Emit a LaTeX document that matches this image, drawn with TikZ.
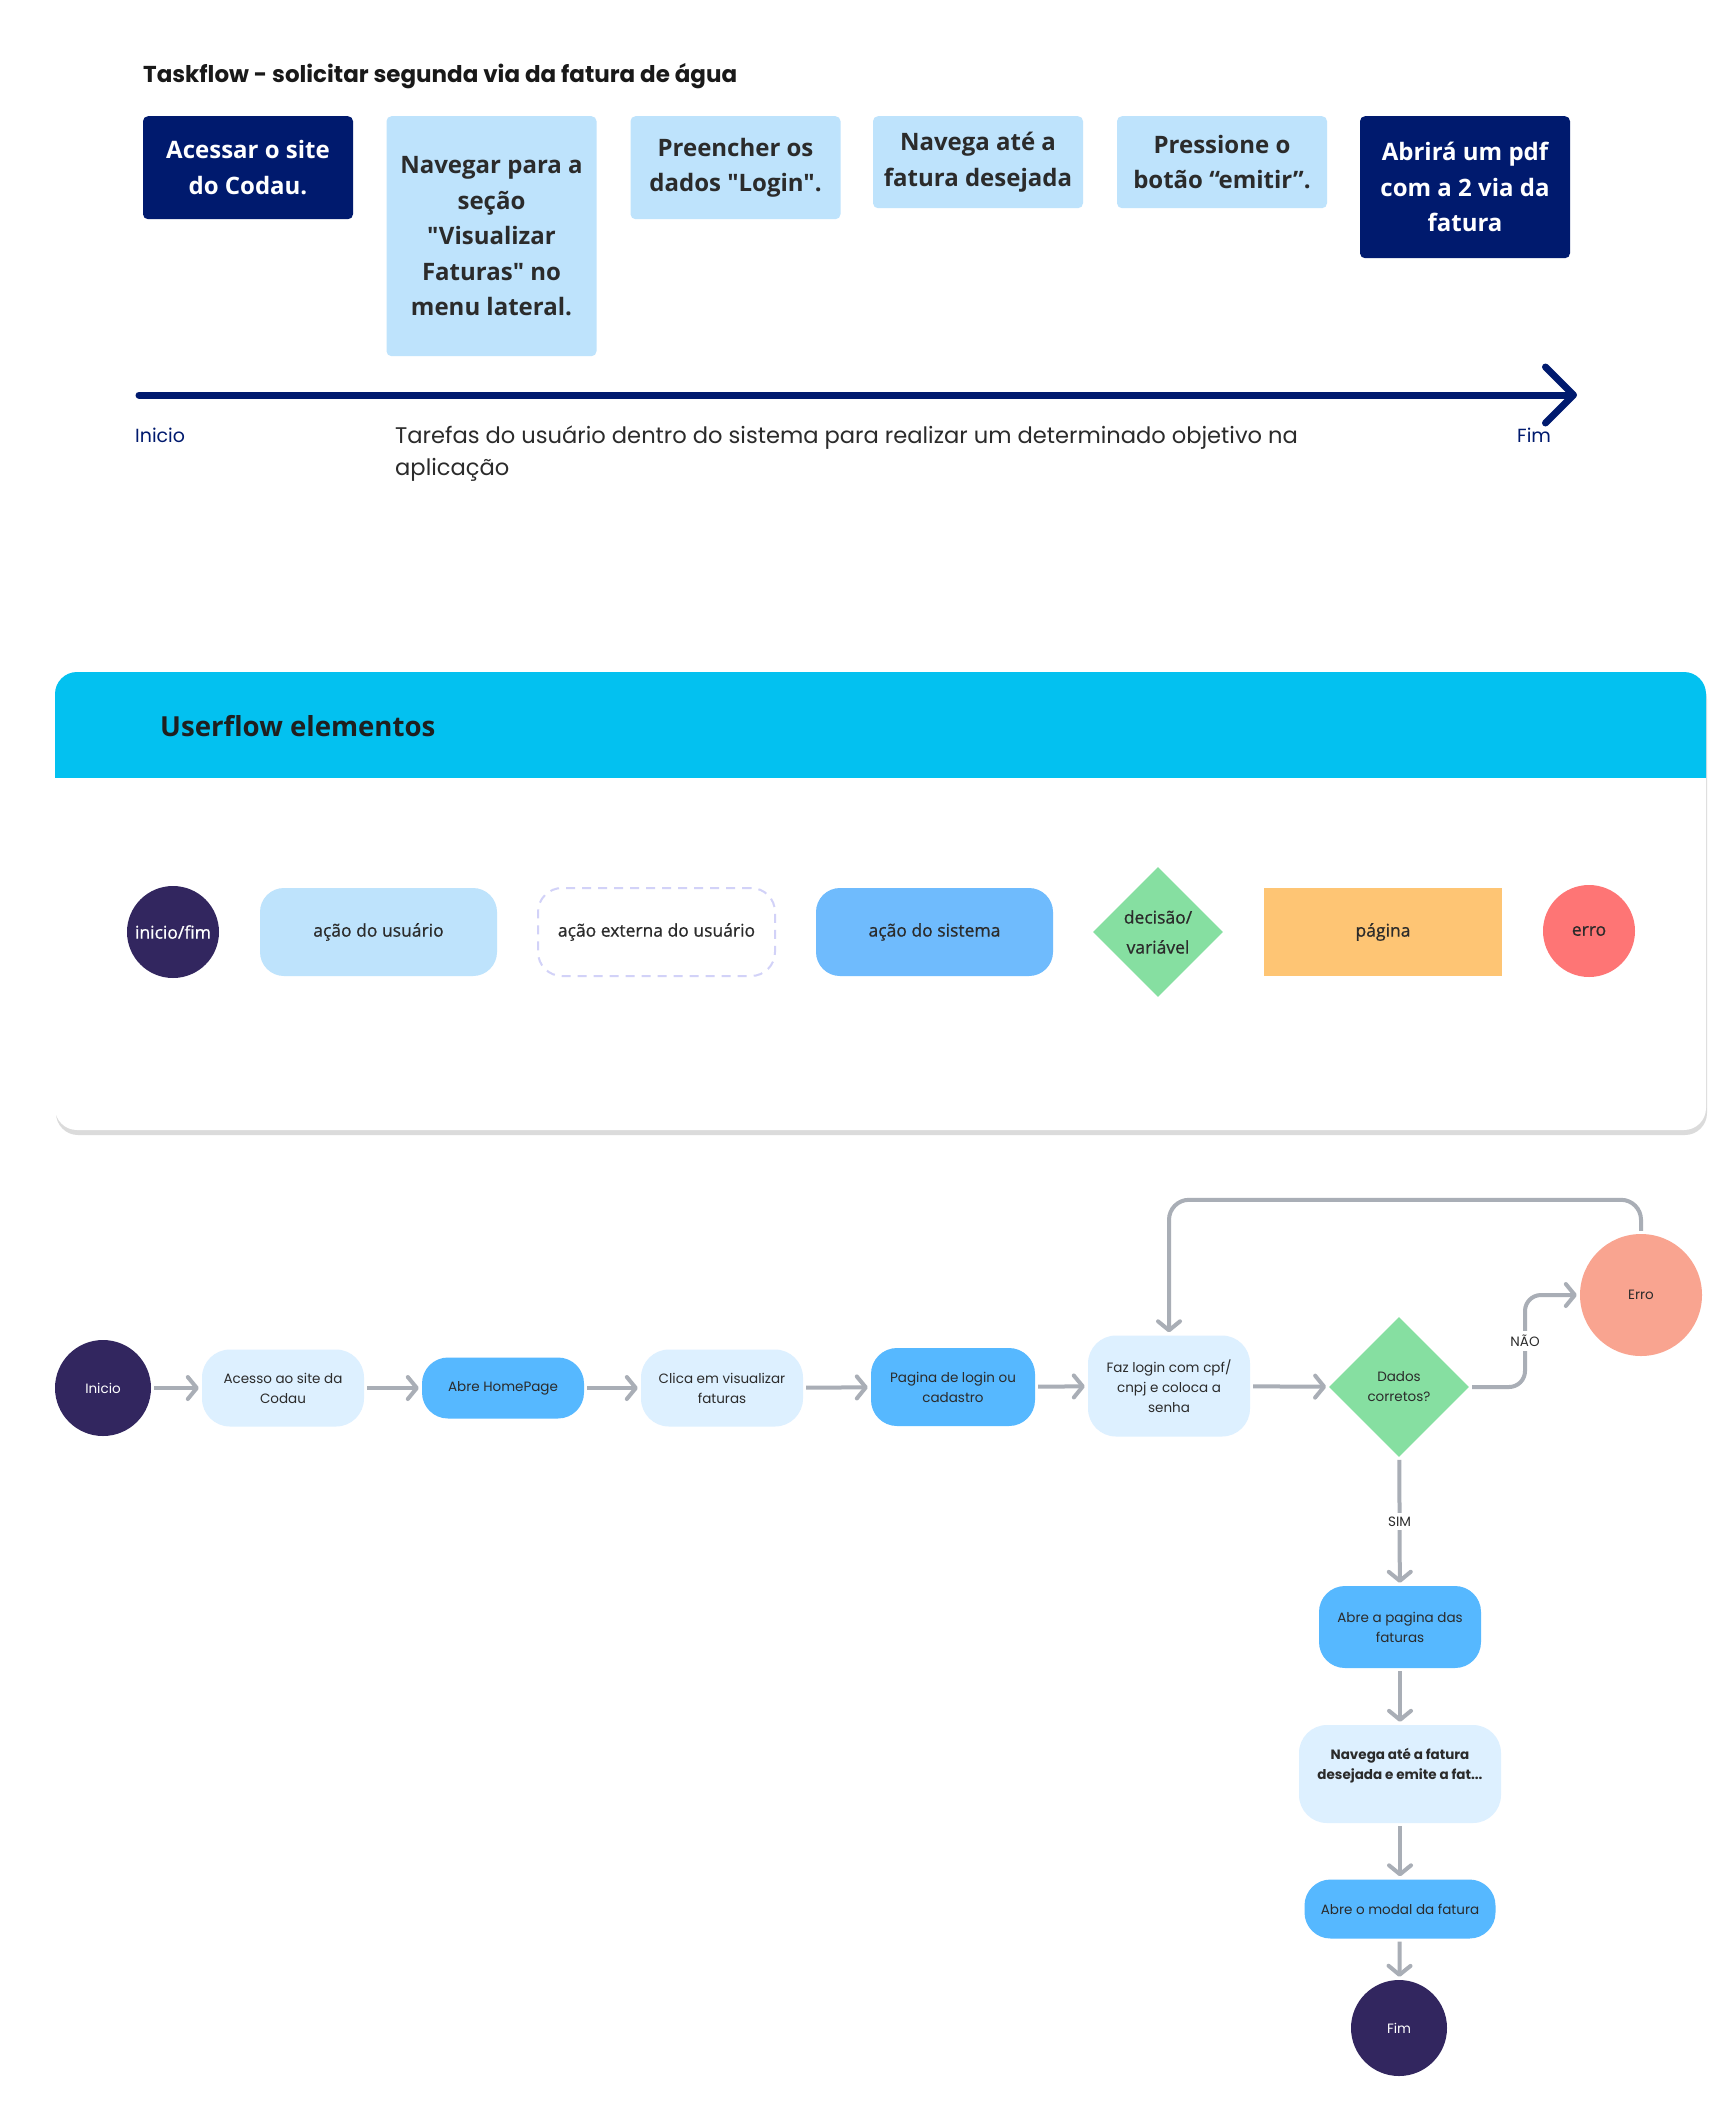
\documentclass[tikz,border=0pt]{standalone}
\usepackage{fontspec}
\setmainfont{Poppins}
\newfontfamily\uifont{Open Sans}
\newfontfamily\uimedium[FakeBold=0.8]{Open Sans}
\usepackage{tikz}
\usetikzlibrary{shapes.geometric,arrows.meta,positioning}

\definecolor{navy}{HTML}{001A6E}
\definecolor{taskblue}{HTML}{BEE3FC}
\definecolor{inkgray}{HTML}{2B2B2B}
\definecolor{startend}{HTML}{32265F}
\definecolor{sysblue}{HTML}{6FBBFD}
\definecolor{decgreen}{HTML}{86DFA1}
\definecolor{pageorange}{HTML}{FEC574}
\definecolor{errred}{HTML}{FE7575}
\definecolor{headcyan}{HTML}{03C1F0}
\definecolor{dashlila}{HTML}{D2D2F8}
\definecolor{flowlight}{HTML}{DDF0FF}
\definecolor{flowblue}{HTML}{56B8FF}
\definecolor{erroflow}{HTML}{F9A490}
\definecolor{arrowgray}{HTML}{A9AEB6}

\tikzset{
  task/.style={fill=taskblue, text=inkgray, rounded corners=5pt, anchor=north, minimum width=210pt, inner sep=0pt, align=center, font=\uifont\bfseries\fontsize{24}{35.5}\selectfont},
  taskdark/.style={task, fill=navy, text=white},
  legtext/.style={font=\uimedium\fontsize{17.5}{30}\selectfont, text=inkgray, inner sep=0pt, align=center},
  legbox/.style={legtext, minimum width=237pt, minimum height=88pt, rounded corners=24pt},
  legcirc/.style={legtext, circle, minimum size=92pt},
  flowtext/.style={font=\fontsize{13.5}{20}\selectfont, text=inkgray, align=center, inner sep=0pt},
  userstep/.style={flowtext, fill=flowlight, rounded corners=28pt, minimum width=162pt},
  sysstep/.style={flowtext, fill=flowblue, rounded corners=26pt, minimum width=162pt},
  endpoint/.style={flowtext, circle, fill=startend, text=white, minimum size=96pt},
  flowarrow/.style={draw=arrowgray, line width=4pt, -{Straight Barb[length=9pt,width=22pt,round]}, shorten <=3pt, shorten >=3pt},
  flowlabel/.style={flowtext, fill=white, inner sep=4pt}
}

\begin{document}
\begin{tikzpicture}[x=1pt, y=-1pt]
  \useasboundingbox (0,0) rectangle (1728,2122);
  \fill[white] (0,0) rectangle (1728,2122);

  % taskflow
  \node[anchor=base west, inner sep=0pt, font=\bfseries\fontsize{23}{27}\selectfont, text=black!90] (tasktitle) at (143,83) {Taskflow - solicitar segunda via da fatura de água};
  \node[taskdark, minimum height=103pt] (acessar) at (248,116) {Acessar o site\\do Codau.};
  \node[task, minimum height=240pt] (navegar) at (491.5,116) {Navegar para a\\seção\\"Visualizar\\Faturas" no\\menu lateral.};
  \node[task, minimum height=103pt] (preencher) at (735.5,116) {Preencher os\\dados "Login".};
  \node[task, minimum height=92pt] (navegaate) at (978,116) {Navega até a\\fatura desejada};
  \node[task, minimum height=92pt] (pressione) at (1222,116) {Pressione o\\botão “emitir”.};
  \node[taskdark, minimum height=142pt] (abrira) at (1465,116) {Abrirá um pdf\\com a 2 via da\\fatura};

  \coordinate (tlstart) at (139,395);
  \coordinate (tlend) at (1577,395);
  \draw[navy, line width=7pt, line cap=round, -{Straight Barb[length=28pt,width=56pt,round]}] (tlstart) -- (tlend);
  \node[anchor=base west, inner sep=0pt, text=navy, font=\fontsize{19}{24}\selectfont] (tlinicio) at (135,442) {Inicio};
  \node[anchor=base west, inner sep=0pt, text=navy, font=\fontsize{19}{24}\selectfont] (tlfim) at (1517,442) {Fim};
  \node[anchor=north west, inner sep=0pt, align=left, text=inkgray, font=\fontsize{22.6}{32}\selectfont] (tldesc) at (395,426) {Tarefas do usuário dentro do sistema para realizar um determinado objetivo na\\aplicação};

  % userflow elementos
  \fill[black!14, rounded corners=22pt] (56,677) rectangle (1707,1135);
  \fill[white, rounded corners=22pt] (55,672) rectangle (1706,1130);
  \fill[headcyan, rounded corners=22pt] (55,672) rectangle (1706,800);
  \fill[white] (55,778) rectangle (1706,802);
  \node[anchor=base west, inner sep=0pt, text=black!88, font=\uifont\bfseries\fontsize{27.6}{32}\selectfont] (legtitle) at (160,736) {Userflow elementos};

  \node[legcirc, fill=startend, text=white] (leginicio) at (173,932) {inicio/fim};
  \node[legbox, fill=taskblue] (leguser) at (378.5,932) {ação do usuário};
  \node[legbox, fill=white, draw=dashlila, line width=2pt, dash pattern=on 9pt off 7pt] (legext) at (656.5,932) {ação externa do usuário};
  \node[legbox, fill=sysblue] (legsys) at (934.5,932) {ação do sistema};
  \node[legtext, diamond, aspect=1, fill=decgreen, minimum width=130pt, minimum height=130pt] (legdec) at (1158,932) {decisão/\\variável};
  \node[legtext, fill=pageorange, minimum width=238pt, minimum height=88pt] (legpage) at (1383,932) {página};
  \node[legcirc, fill=errred] (legerro) at (1589,931) {erro};

  % userflow
  \node[endpoint] (inicio) at (103,1388) {Inicio};
  \node[userstep, minimum height=77pt] (acesso) at (283,1388) {Acesso ao site da\\Codau};
  \node[sysstep, minimum height=61pt] (homepage) at (503,1388) {Abre HomePage};
  \node[userstep, minimum height=77pt] (clica) at (722,1388) {Clica em visualizar\\faturas};
  \node[sysstep, minimum width=164pt, minimum height=78pt] (login) at (953,1387) {Pagina de login ou\\cadastro};
  \node[userstep, minimum height=101pt] (fazlogin) at (1169,1386) {Faz login com cpf/\\cnpj e coloca a\\senha};
  \node[flowtext, diamond, aspect=1, fill=decgreen, minimum width=140pt, minimum height=140pt] (dados) at (1399,1387) {Dados\\corretos?};
  \node[flowtext, circle, fill=erroflow, minimum size=122pt] (erro) at (1641,1295) {Erro};
  \node[sysstep, minimum height=82pt] (abrepag) at (1400,1627) {Abre a pagina das\\faturas};
  \node[userstep, minimum width=202pt, minimum height=98pt, font=\bfseries\fontsize{13.5}{20}\selectfont] (navega) at (1400,1774) {Navega até a fatura\\desejada e emite a fat...\\\mbox{}};
  \node[sysstep, minimum width=191pt, minimum height=59pt] (modal) at (1400,1909) {Abre o modal da fatura};
  \node[endpoint] (fim) at (1399,2028) {Fim};

  \draw[flowarrow] (inicio) -- (acesso);
  \draw[flowarrow] (acesso) -- (homepage);
  \draw[flowarrow] (homepage) -- (clica);
  \draw[flowarrow] (clica) -- (login);
  \draw[flowarrow] (login) -- (fazlogin);
  \draw[flowarrow] (fazlogin) -- (dados);
  \coordinate (naoturn) at (1525,1341);
  \draw[flowarrow, rounded corners=16pt] (dados.east) -| (naoturn) |- (erro.west);
  \node[flowlabel] (nao) at (naoturn) {NÃO};
  \draw[flowarrow, rounded corners=20pt] (erro.north) -- ++(0,-34) -| (fazlogin.north);
  \draw[flowarrow] (dados) -- node[flowlabel] (sim) {SIM} (abrepag);
  \draw[flowarrow] (abrepag) -- (navega);
  \draw[flowarrow] (navega) -- (modal);
  \draw[flowarrow] (modal) -- (fim);
\end{tikzpicture}
\end{document}
